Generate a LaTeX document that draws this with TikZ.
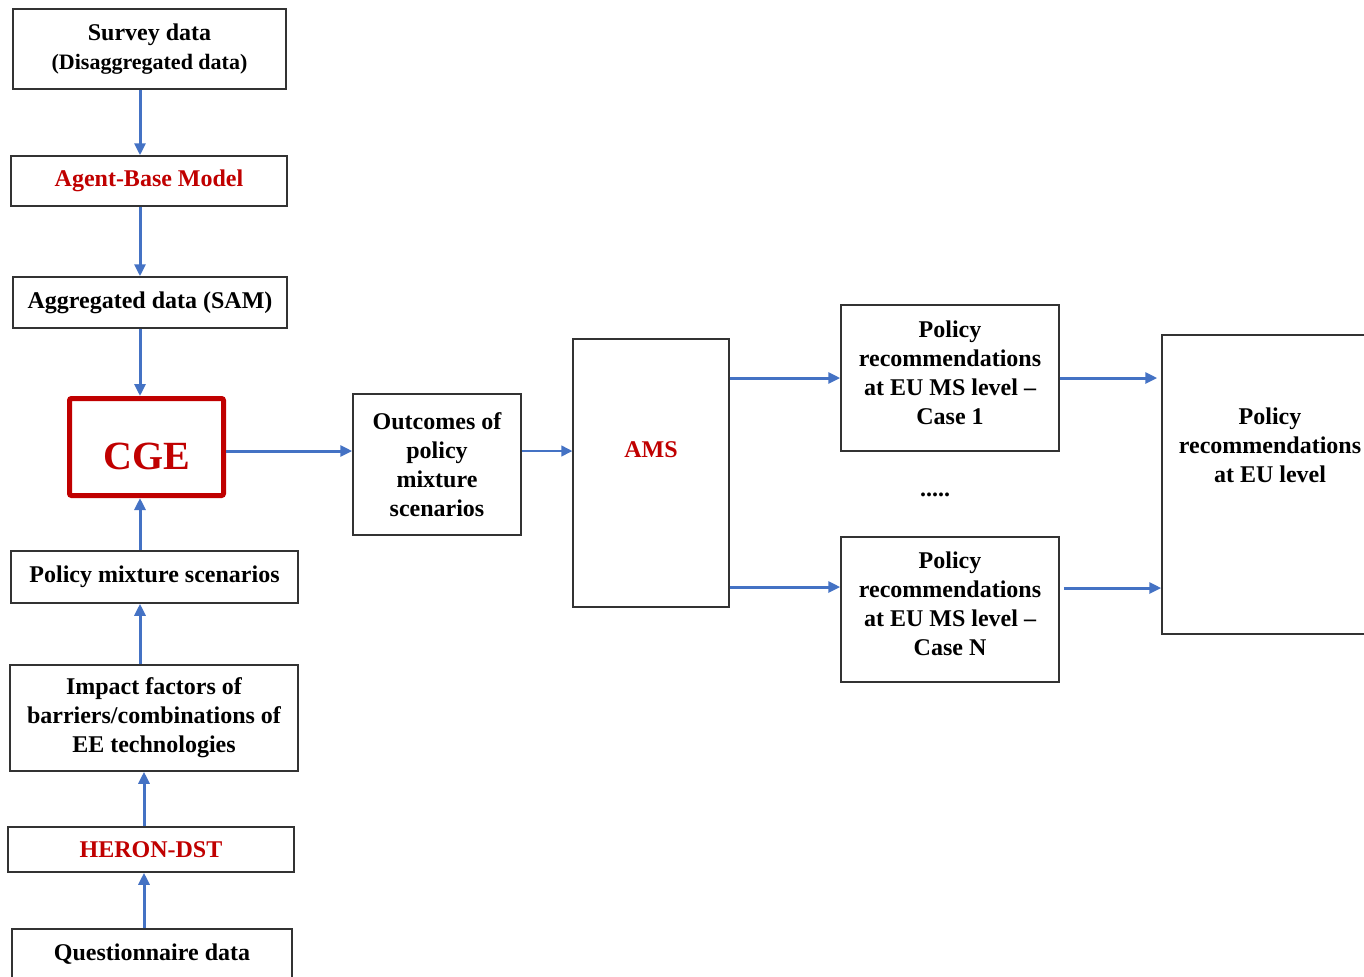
\documentclass[tikz,border=0pt]{standalone}
\usepackage{fontspec}
\setmainfont{Liberation Serif}
\usetikzlibrary{arrows.meta}
\definecolor{flowblue}{RGB}{68,114,196}
\definecolor{modelred}{RGB}{192,0,0}
\tikzset{
	box/.style={draw=black!80, line width=0.75pt, align=center, inner sep=0pt, font=\fontsize{12}{14.5}\selectfont\bfseries},
	model/.style={text=modelred},
	flow/.style={draw=flowblue, line width=1.5pt, -{Triangle[length=6pt,width=5.5pt]}},
	thinflow/.style={draw=flowblue, line width=0.75pt, -{Triangle[length=5.5pt,width=5.5pt]}}
}
\begin{document}
\begin{tikzpicture}[x=0.5pt, y=-0.5pt]
			%%%%% START %%%%%
			\useasboundingbox (0, 0) rectangle (1364, 976);
			\clip (0, 0) rectangle (1364, 976);
			
			\coordinate (spine) at (140, 0);
			\coordinate (spinelow) at (144, 0);
			\coordinate (rowcge) at (0, 451);
			\coordinate (rowcasen) at (0, 587);
			\coordinate (rowcaseneu) at (0, 588);
			
			% left column
			\node[box, minimum width=136.5pt, minimum height=40pt] (survey) at (149.5, 49) {Survey data\\{\fontsize{11}{14.5}\selectfont(Disaggregated data)}};
			\node[box, model, minimum width=138pt, minimum height=25pt] (abm) at (149, 181) {Agent-Base Model};
			\node[box, minimum width=137pt, minimum height=25.5pt] (sam) at (150, 302.5) {Aggregated data (SAM)};
			\node[box, draw=modelred, line width=2.5pt, rounded corners=1pt, model, minimum width=77pt, minimum height=48.5pt, font=\fontsize{20}{24}\selectfont\bfseries] (cge) at (146.5, 447) {\raisebox{-4.5pt}[\height][\depth]{CGE}};
			\node[box, minimum width=143.5pt, minimum height=26pt] (pms) at (154.5, 577) {Policy mixture scenarios};
			\node[box, minimum width=144pt, minimum height=53pt] (impact) at (154, 718) {Impact factors of\\barriers/combinations of\\EE technologies};
			\node[box, model, minimum width=143pt, minimum height=22.5pt] (heron) at (151, 849.5) {HERON-DST};
			\node[box, minimum width=140pt, minimum height=25pt] (quest) at (152, 954) {Questionnaire data};
			
			% right part
			\node[box, minimum width=84pt, minimum height=70.5pt] (outcomes) at (437, 464.5) {Outcomes of\\policy\\mixture\\scenarios};
			\node[box, minimum width=78pt, minimum height=134pt] (ams) at (651, 473) {};
			\node[box, draw=none, model] (amstext) at (651, 450) {AMS};
			\node[box, minimum width=109pt, minimum height=73pt] (case1) at (950, 378) {};
			\node[box, draw=none] (case1text) at (950, 373) {Policy\\recommendations\\at EU MS level \textendash\\Case 1};
			\node[box, draw=none] (dots) at (935, 495) {.....};
			\node[box, minimum width=109pt, minimum height=72.5pt] (casen) at (950, 609.5) {};
			\node[box, draw=none] (casentext) at (950, 603.5) {Policy\\recommendations\\at EU MS level \textendash\\Case N};
			\node[box, minimum width=108pt, minimum height=149.5pt] (eu) at (1270, 484.5) {};
			\node[box, draw=none] (eutext) at (1270, 445.5) {Policy\\recommendations\\at EU level};
			
			% arrows
			\draw[flow] (survey.south -| spine) -- (abm.north -| spine);
			\draw[flow] (abm.south -| spine) -- (sam.north -| spine);
			\draw[flow] (sam.south -| spine) -- (cge.north -| spine);
			\draw[flow] (pms.north -| spine) -- (cge.south -| spine);
			\draw[flow] (impact.north -| spine) -- (pms.south -| spine);
			\draw[flow] (heron.north -| spinelow) -- (impact.south -| spinelow);
			\draw[flow] (quest.north -| spinelow) -- (heron.south -| spinelow);
			
			\draw[flow] (cge.east |- rowcge) -- (outcomes.west |- rowcge);
			\draw[thinflow] (outcomes.east |- rowcge) -- (ams.west |- rowcge);
			\draw[flow] (ams.east |- case1.west) -- (case1.west);
			\draw[flow] (ams.east |- rowcasen) -- (casen.west |- rowcasen);
			\draw[flow] (case1.east) -- ([xshift=-2pt]case1.east -| eu.west);
			\draw[flow] ([xshift=2pt]casen.east |- rowcaseneu) -- (eu.west |- rowcaseneu);
			%%%%% END %%%%%
\end{tikzpicture}
\end{document}
